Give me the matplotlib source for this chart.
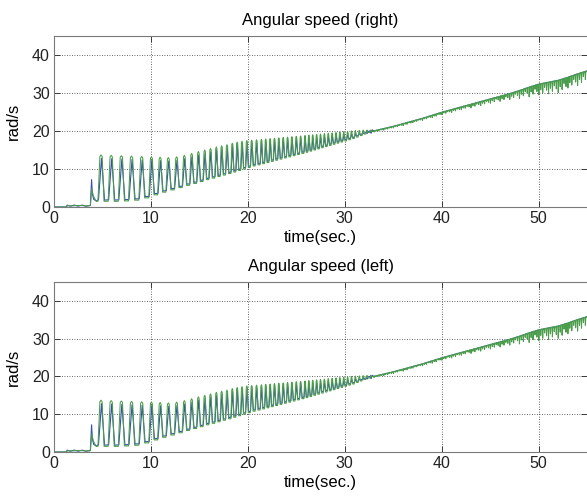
import numpy as np
import matplotlib
matplotlib.use("Agg")
import matplotlib.pyplot as plt

# ---------------- data ----------------
# start-up phase (time, value)
start_t_green = [0.0, 1.3, 1.35, 2.0, 2.6, 3.2, 3.75, 3.9, 4.05, 4.35]
start_v_green = [0.0, 0.0, 0.35, 0.3, 0.4, 0.3, 0.35, 4.8, 3.0, 1.5]
start_t_blue = [0.0, 1.3, 1.35, 1.7, 2.1, 2.5, 2.9, 3.3, 3.75, 3.88, 3.95, 4.1, 4.35]
start_v_blue = [0.0, 0.0, 0.5, 0.2, 0.5, 0.2, 0.5, 0.2, 0.4, 7.2, 3.5, 2.0, 1.6]

# oscillation phase: peak times, peak values, trough values after each peak
peak_t = [4.85, 5.9, 6.95, 8.0, 9.05, 10.05, 10.95, 11.8, 12.65, 13.45,
          14.2, 14.9, 15.55, 16.15, 16.75, 17.3, 17.85, 18.4, 18.9, 19.4,
          19.9, 20.4, 20.9, 21.4, 21.85, 22.3, 22.75, 23.2, 23.65, 24.1,
          24.55, 25.0, 25.45, 25.9, 26.3, 26.7, 27.1, 27.5, 27.9, 28.3,
          28.7, 29.1, 29.5, 29.9, 30.3, 30.7, 31.1, 31.5, 31.9, 32.3, 32.7]
peak_hi = [13.7, 13.6, 13.5, 13.4, 13.3, 13.2, 13.1, 13.0, 13.2, 13.6,
           14.1, 14.6, 15.0, 15.4, 15.8, 16.1, 16.4, 16.8, 17.1, 17.3,
           17.5, 17.6, 17.7, 17.8, 17.9, 18.0, 18.1, 18.2, 18.3, 18.4,
           18.5, 18.6, 18.7, 18.8, 18.9, 19.0, 19.1, 19.2, 19.3, 19.4,
           19.5, 19.6, 19.7, 19.8, 19.9, 20.0, 20.1, 20.15, 20.2, 20.25, 20.3]
trough_lo = [1.5, 1.5, 1.6, 1.8, 2.4, 3.2, 3.9, 4.5, 5.1, 5.7,
             6.2, 6.7, 7.2, 7.6, 8.0, 8.4, 8.8, 9.2, 9.6, 10.0,
             10.4, 10.8, 11.1, 11.4, 11.7, 12.0, 12.3, 12.6, 12.9, 13.2,
             13.5, 13.8, 14.1, 14.4, 14.7, 15.0, 15.3, 15.6, 15.9, 16.2,
             16.5, 16.8, 17.1, 17.4, 17.7, 18.0, 18.4, 18.8, 19.2, 19.6, 20.0]

# ramp phase: upper (blue) line per second and depth of the green dips
ramp_t = [33, 34, 35, 36, 37, 38, 39, 40, 41, 42, 43, 44, 45, 46, 47, 48,
          49, 50, 51, 52, 53, 54, 55]
ramp_v = [20.0, 20.6, 21.2, 21.9, 22.6, 23.3, 24.1, 24.9, 25.6, 26.3, 27.0,
          27.7, 28.4, 29.1, 29.8, 30.6, 31.5, 32.3, 32.8, 33.3, 34.1, 35.0, 35.8]
ramp_dip = [0.3, 0.4, 0.4, 0.5, 0.4, 0.5, 0.6, 0.6, 0.7, 0.7, 0.9, 1.0,
            1.1, 1.3, 1.5, 2.0, 2.5, 2.8, 3.0, 3.2, 2.8, 3.0, 3.0]
dip_pattern = [1.0, 0.55, 0.85, 0.4, 0.7]

titles = ["Angular speed (right)", "Angular speed (left)"]
x_ticks = [0, 10, 20, 30, 40, 50]
y_ticks = [0, 10, 20, 30, 40]


# ---------------- build polylines ----------------
def build_series():
    gt, gv = list(start_t_green), list(start_v_green)
    bt, bv = list(start_t_blue), list(start_v_blue)
    n = len(peak_t)
    prev_lo = start_v_green[-1]
    for i in range(n):
        p = peak_t[i]
        h = ((peak_t[i + 1] - p) if i + 1 < n else (p - peak_t[i - 1])) / 2
        hi, lo = peak_hi[i], trough_lo[i]
        gt += [p - 0.6 * h, p - 0.22 * h, p, p + 0.22 * h, p + 0.6 * h]
        gv += [prev_lo, hi - 0.4, hi, hi - 0.4, lo]
        bt += [p - 0.5 * h, p + 0.1 * h, p + 0.7 * h]
        bv += [prev_lo + 0.4, hi - 0.9, lo + 0.3]
        prev_lo = lo
    # ramp
    m = len(dip_pattern)
    step = 1.0 / m
    for j in range(len(ramp_t) - 1):
        for k in range(m):
            t0 = ramp_t[j] + k * step
            base0 = np.interp(t0, ramp_t, ramp_v)
            base1 = np.interp(t0 + step, ramp_t, ramp_v)
            d = ramp_dip[j] * dip_pattern[k]
            gt += [t0, t0 + 0.03, t0 + 0.08, t0 + step]
            gv += [base0 - 0.1, base0 - d, base0 + 0.15, base1 - 0.1]
    gt.append(ramp_t[-1]); gv.append(ramp_v[-1] - 0.2)
    bt += list(ramp_t)
    bv += list(ramp_v)
    return bt, bv, gt, gv


bt, bv, gt, gv = build_series()

plt.rcParams['font.family'] = ['Liberation Sans', 'DejaVu Sans']
fig = plt.figure(figsize=(5.87, 4.96), dpi=100)
positions = [[0.092, 0.5827, 0.908, 0.3447], [0.092, 0.0887, 0.908, 0.3428]]

for pos, title in zip(positions, titles):
    ax = fig.add_axes(pos)
    ax.plot(bt, bv, color='#3a4db4', lw=0.8)
    ax.plot(gt, gv, color='#4a9d4a', lw=0.75)
    ax.set_xlim(0, 55)
    ax.set_ylim(0, 45)
    ax.set_xticks(x_ticks)
    ax.set_yticks(y_ticks)
    ax.grid(True, color='#333333', linestyle=(0, (1, 2)), linewidth=0.6)
    ax.tick_params(direction='in', length=4, width=0.6, labelsize=11.5,
                   top=True, right=True, colors='#222222', pad=3)
    ax.tick_params(axis='x', pad=3)
    for s in ax.spines.values():
        s.set_color('#7a7a7a')
        s.set_linewidth(0.8)
    ax.spines['right'].set_visible(False)
    ax.set_title(title, fontsize=12, pad=8)
    ax.set_xlabel('time(sec.)', fontsize=12, labelpad=3)
    ax.set_ylabel('rad/s', fontsize=12, labelpad=8)

fig.savefig('out.png', dpi=100)
